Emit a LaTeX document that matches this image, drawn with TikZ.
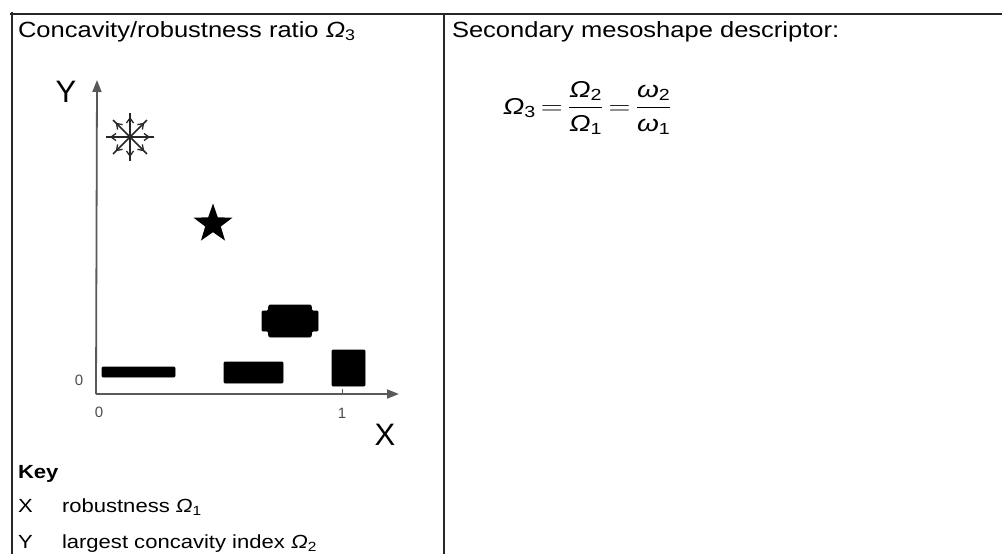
\documentclass[tikz,border=0pt]{standalone}
\usepackage{amsmath}
\usepackage{fontspec}
\setmainfont{Liberation Sans}
\usetikzlibrary{shapes.geometric}
\usetikzlibrary{arrows.meta}
\usetikzlibrary{positioning}

\newcommand{\bigOm}{\text{\itshape Ω}}
\newcommand{\smom}{\text{\itshape ω}}

\begin{document}
\begin{tikzpicture}[
  x=1pt, y=-1pt,
  every node/.style={inner sep=0pt, outer sep=0pt},
  head/.style={anchor=base west, xscale=1.16, font=\fontsize{22}{26}\selectfont},
  keyline/.style={anchor=base west, xscale=1.16, font=\fontsize{19}{23}\selectfont},
  axislabel/.style={font=\fontsize{31}{36}\selectfont},
  ticklabel/.style={font=\fontsize{15}{18}\selectfont, text=black!70},
  rule/.style={line width=1.6pt, black!85},
  axis/.style={line width=1.8pt, black!65, -{Triangle[length=12pt,width=9pt]}},
  blob/.style={fill=black, draw=black, line width=0.8pt, rounded corners=1pt}
]
\useasboundingbox (0,0) rectangle (1002,554);

% table rules
\draw[rule] (10,14) -- (1002,14);
\draw[rule] (12,12) -- (12,554);
\draw[rule] (444,14) -- (444,554);

% headings
\node[head] (lefthead) at (18,37) {Concavity/robustness ratio {\itshape Ω}\textsubscript{3}};
\node[head] (righthead) at (452,37) {Secondary mesoshape descriptor:};

% formula
\node[anchor=west, xscale=1.22, font=\fontsize{23}{27}\selectfont] (ratio) at (503,108)
  {$\thickmuskip=3mu \bigOm_{\text{3}} = \dfrac{\bigOm_{\text{2}}}{\bigOm_{\text{1}}} = \dfrac{\smom_{\text{2}}}{\smom_{\text{1}}}$};

% axes
\coordinate (origin) at (96,394);
\coordinate (xend) at (399,394);
\coordinate (yend) at (97,80);
\draw[axis] (origin) -- (xend);
\draw[axis] (origin) -- (yend);
\draw[line width=0.8pt, black!65] (342,389) -- (342,394);

\node[axislabel] (ylabel) at (66,92) {Y};
\node[axislabel] (xlabel) at (385,435) {X};
\node[ticklabel] (yzero) at (79,380) {0};
\node[ticklabel] (xzero) at (99,412) {0};
\node[ticklabel] (xone) at (342,413) {1};

% particle shapes
\fill[blob] (102,367) rectangle (175,377);
\fill[blob] (224,362) rectangle (283,383);
\fill[blob] (332,350) rectangle (365,386);
\fill[blob] (269,305) -- (311,305) -- (312,311) -- (318,311) -- (318,331) -- (312,331)
  -- (311,337) -- (269,337) -- (268,331) -- (262,331) -- (262,311) -- (268,311) -- cycle;
\node[star, star points=5, star point ratio=2.5, fill=black, minimum size=41pt] (starshape) at (213,224) {};

% snowflake
\coordinate (flake) at (130,137);
\foreach \a in {0,45,...,315}{
  \begin{scope}[shift={(flake)}, rotate=\a]
    \draw[line width=1.6pt, black!85] (0,0) -- (24,0);
    \draw[line width=1.3pt, black!85] (14,3.5) -- (19,0) -- (14,-3.5);
  \end{scope}
}

% key
\node[keyline, font=\fontsize{19}{23}\selectfont\bfseries] (keyhead) at (18,478) {Key};
\node[keyline] (keyx) at (18,512) {X};
\node[keyline] (keyxtext) at (62,512) {robustness {\itshape Ω}\textsubscript{1}};
\node[keyline] (keyy) at (18,548) {Y};
\node[keyline] (keyytext) at (62,548) {largest concavity index {\itshape Ω}\textsubscript{2}};
\end{tikzpicture}
\end{document}
